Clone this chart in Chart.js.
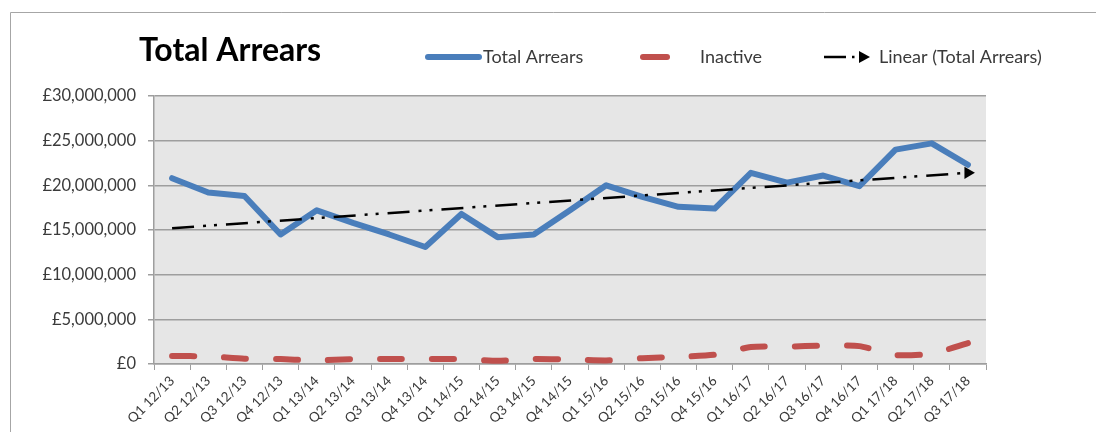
<!DOCTYPE html>
<html>
<head>
<meta charset="utf-8">
<script src="https://cdn.jsdelivr.net/npm/chart.js@4/dist/chart.umd.min.js"></script>
<style>
  html, body { margin: 0; padding: 0; background: #fff; }
  canvas { display: block; }
</style>
</head>
<body>
<canvas id="arrearsChart" width="1096" height="432"></canvas>
<script>
const quarters = [
  "Q1 12/13", "Q2 12/13", "Q3 12/13", "Q4 12/13",
  "Q1 13/14", "Q2 13/14", "Q3 13/14", "Q4 13/14",
  "Q1 14/15", "Q2 14/15", "Q3 14/15", "Q4 14/15",
  "Q1 15/16", "Q2 15/16", "Q3 15/16", "Q4 15/16",
  "Q1 16/17", "Q2 16/17", "Q3 16/17", "Q4 16/17",
  "Q1 17/18", "Q2 17/18", "Q3 17/18",
];

const totalArrears = [
  20800000, 19200000, 18800000, 14500000,
  17200000, 15800000, 14500000, 13100000,
  16800000, 14200000, 14500000, 17200000,
  20000000, 18700000, 17600000, 17400000,
  21400000, 20300000, 21100000, 19900000,
  24000000, 24700000, 22300000,
];

const inactiveArrears = [
  900000, 850000, 600000, 550000,
  400000, 550000, 550000, 550000,
  550000, 350000, 550000, 500000,
  400000, 650000, 800000, 1050000,
  1900000, 1950000, 2050000, 2000000,
  1000000, 1150000, 2350000,
];

// linear trend line, first and last value
const trendStart = 15200000;
const trendEnd = 21400000;

const yMin = 0;
const yMax = 30000000;
const yStep = 5000000;

const FONT = "Lato, 'Open Sans', sans-serif";
const TEXT_COLOR = "#3a3a3a";
const GRID_COLOR = "#9e9e9e";
const BLUE = "#4a7ebb";
const RED = "#c0504d";

const trendData = quarters.map((q, i) => {
  if (i === 0) return trendStart;
  if (i === quarters.length - 1) return trendEnd;
  return null;
});

const chartFrame = {
  id: "chartFrame",
  beforeDraw(chart) {
    const { ctx, chartArea } = chart;
    ctx.save();
    ctx.fillStyle = "#fff";
    ctx.fillRect(0, 0, chart.width, chart.height);

    ctx.strokeStyle = "#a6a6a6";
    ctx.lineWidth = 1;
    ctx.beginPath();
    ctx.moveTo(10.5, chart.height);
    ctx.lineTo(10.5, 12.5);
    ctx.lineTo(chart.width, 12.5);
    ctx.stroke();

    ctx.fillStyle = "#e6e6e6";
    ctx.fillRect(chartArea.left, chartArea.top,
      chartArea.right - chartArea.left, chartArea.bottom - chartArea.top);
    ctx.restore();
  },
  afterDraw(chart) {
    const ctx = chart.ctx;
    ctx.save();

    ctx.fillStyle = "#000";
    ctx.font = "bold 32px " + FONT;
    ctx.textBaseline = "alphabetic";
    ctx.fillText("Total Arrears", 139, 61);

    const y = 57;
    ctx.font = "18px " + FONT;
    ctx.textBaseline = "middle";

    ctx.lineCap = "round";
    ctx.lineWidth = 6;
    ctx.strokeStyle = BLUE;
    ctx.beginPath();
    ctx.moveTo(428, y);
    ctx.lineTo(479, y);
    ctx.stroke();
    ctx.fillStyle = TEXT_COLOR;
    ctx.fillText("Total Arrears", 483, y);

    ctx.strokeStyle = RED;
    ctx.beginPath();
    ctx.moveTo(643, y);
    ctx.lineTo(667, y);
    ctx.stroke();
    ctx.fillText("Inactive", 700, y);

    ctx.lineCap = "butt";
    ctx.lineWidth = 2.5;
    ctx.strokeStyle = "#000";
    ctx.beginPath();
    ctx.moveTo(824, y);
    ctx.lineTo(846, y);
    ctx.stroke();
    ctx.fillStyle = "#000";
    ctx.fillRect(852, y - 1.25, 2.5, 2.5);
    ctx.beginPath();
    ctx.moveTo(859, y - 6);
    ctx.lineTo(870, y);
    ctx.lineTo(859, y + 6);
    ctx.closePath();
    ctx.fill();
    ctx.fillStyle = TEXT_COLOR;
    ctx.fillText("Linear (Total Arrears)", 879, y);

    ctx.restore();
  },
};

new Chart(document.getElementById("arrearsChart"), {
  type: "line",
  data: {
    labels: quarters,
    datasets: [
      {
        label: "Linear (Total Arrears)",
        data: trendData,
        spanGaps: true,
        borderColor: "#000",
        borderWidth: 2.5,
        borderDash: [22, 9, 3, 8, 3, 9],
        pointRadius: quarters.map((q, i) => (i === quarters.length - 1 ? 7 : 0)),
        pointStyle: "triangle",
        rotation: 90,
        pointBackgroundColor: "#000",
        pointBorderWidth: 0,
        order: 0,
      },
      {
        label: "Total Arrears",
        data: totalArrears,
        borderColor: BLUE,
        borderWidth: 6,
        borderCapStyle: "round",
        borderJoinStyle: "round",
        pointRadius: 0,
        tension: 0,
        order: 1,
      },
      {
        label: "Inactive",
        data: inactiveArrears,
        borderColor: RED,
        borderWidth: 6,
        borderCapStyle: "round",
        borderJoinStyle: "round",
        borderDash: [22, 30],
        pointRadius: 0,
        tension: 0.2,
        order: 2,
      },
    ],
  },
  options: {
    responsive: false,
    animation: false,
    devicePixelRatio: 1,
    layout: {
      padding: { top: 96, right: 110, bottom: 0, left: 0 },
    },
    plugins: {
      legend: { display: false },
      title: { display: false },
      tooltip: { enabled: false },
    },
    scales: {
      x: {
        offset: true,
        afterFit: (scale) => { scale.height = 68; },
        grid: {
          offset: true,
          drawOnChartArea: false,
          color: GRID_COLOR,
          tickLength: 6,
        },
        border: { color: GRID_COLOR, width: 1.5 },
        ticks: {
          autoSkip: false,
          minRotation: 45,
          maxRotation: 45,
          padding: 3,
          color: TEXT_COLOR,
          font: { family: FONT, size: 13.5 },
        },
      },
      y: {
        min: yMin,
        max: yMax,
        afterFit: (scale) => { scale.width = 154; },
        grid: {
          color: GRID_COLOR,
          lineWidth: 1.5,
          tickLength: 6,
        },
        border: { color: GRID_COLOR, width: 1.5 },
        ticks: {
          stepSize: yStep,
          padding: 12,
          color: TEXT_COLOR,
          font: { family: FONT, size: 16.5 },
          callback: (value) => "£" + value.toLocaleString("en-GB"),
        },
      },
    },
  },
  plugins: [chartFrame],
});
</script>
</body>
</html>
